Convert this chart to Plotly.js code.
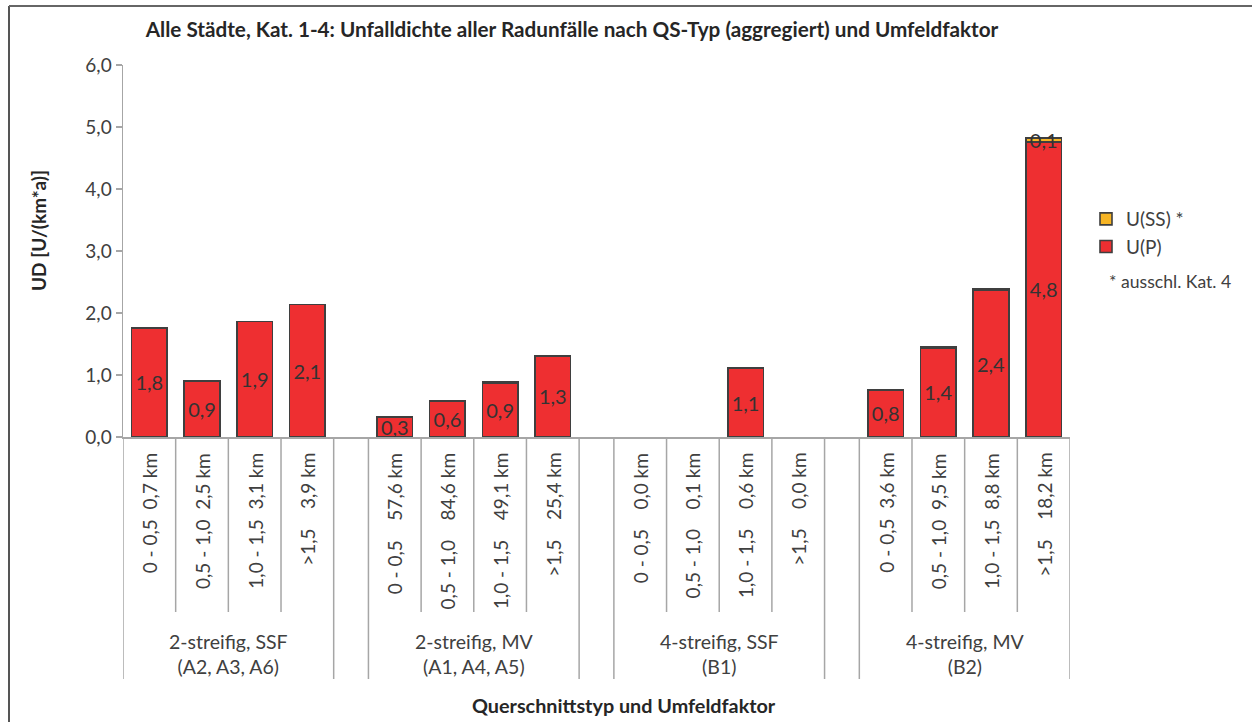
<!DOCTYPE html>
<html>
<head>
<meta charset="utf-8">
<script src="https://cdn.plot.ly/plotly-3.0.1.min.js"></script>
<style>html,body{margin:0;padding:0;background:#fff;}#chart{width:1252px;height:722px;}</style>
</head>
<body>
<div id="chart"></div>
<script>
// ---- data ----
const groupLabels = [
  '2-streifig, SSF<br>(A2, A3, A6)',
  '2-streifig, MV<br>(A1, A4, A5)',
  '4-streifig, SSF<br>(B1)',
  '4-streifig, MV<br>(B2)'
];
const NB = '\u00A0';
const subLabels = [
  '0 - 0,5  0,7 km', '0,5 - 1,0  2,5 km', '1,0 - 1,5  3,1 km', '>1,5    3,9 km',
  '0 - 0,5    57,6 km', '0,5 - 1,0    84,6 km', '1,0 - 1,5    49,1 km', '>1,5    25,4 km',
  '0 - 0,5    0,0 km', '0,5 - 1,0    0,1 km', '1,0 - 1,5    0,6 km', '>1,5    0,0 km',
  '0 - 0,5  3,6 km', '0,5 - 1,0  9,5 km', '1,0 - 1,5  8,8 km', '>1,5    18,2 km'
];
const uP  = [1.76, 0.90, 1.86, 2.14,  0.32, 0.58, 0.87, 1.31,  null, null, 1.11, null,  0.76, 1.44, 2.37, 4.76];
const uSS = [null, null, null, null,  null, null, 0.02, null,  null, null, null, null,  null, 0.01, 0.02, 0.06];
const seriesNames = ['U(P)', 'U(SS) *'];
const footnote = '* ausschl. Kat. 4';

// ---- layout helpers ----
const M = {l: 123, r: 182, t: 65, b: 285};
const W = 1252, H = 722;
const PW = W - M.l - M.r, PH = H - M.t - M.b;
const px2paperX = p => (p - M.l) / PW;
const px2paperY = p => (H - M.b - p) / PH;
const GROUP_STRIDE = 4.66;
const xPos = i => Math.floor(i / 4) * GROUP_STRIDE + (i % 4);
const xs = subLabels.map((_, i) => xPos(i));
const fmt = v => (v == null || v < 0.05) ? '' : v.toFixed(1).replace('.', ',');

const FONT = 'Lato, "Open Sans", sans-serif';
const TXT = '#404040';
const GRID = '#A6A6A6';

const common = {
  type: 'bar', x: xs, width: 0.675,
  textposition: 'inside', insidetextanchor: 'middle', textangle: 0,
  constraintext: 'none', cliponaxis: false,
  textfont: {family: FONT, size: 20, color: '#333333'},
  hoverinfo: 'skip'
};
const traces = [
  Object.assign({}, common, {
    name: seriesNames[0], y: uP, text: uP.map(fmt),
    marker: {color: '#EE2F31', line: {color: '#3F3F3F', width: 1.6}}
  }),
  Object.assign({}, common, {
    name: seriesNames[1], y: uSS, text: uSS.map(fmt),
    marker: {color: '#F7B525', line: {color: '#3F3F3F', width: 1.6}}
  })
];

const shapes = [];
const annotations = [];
// category labels and dividers
subLabels.forEach((lab, i) => {
  annotations.push({
    xref: 'x', yref: 'paper', x: xs[i], y: 0, yshift: -14,
    text: lab.replace(/ /g, NB), textangle: -90, showarrow: false,
    xanchor: 'center', yanchor: 'top',
    font: {family: FONT, size: 19, color: TXT}
  });
  if (i % 4 !== 0) {
    shapes.push({type: 'line', xref: 'x', yref: 'paper', ysizemode: 'pixel', yanchor: 0,
      x0: xs[i] - 0.5, x1: xs[i] - 0.5, y0: 0, y1: -175,
      line: {color: GRID, width: 1.5}});
  }
});
groupLabels.forEach((g, k) => {
  const first = xs[k * 4], last = xs[k * 4 + 3];
  [first - 0.5, last + 0.5].forEach(xv => {
    shapes.push({type: 'line', xref: 'x', yref: 'paper', ysizemode: 'pixel', yanchor: 0,
      x0: xv, x1: xv, y0: 0, y1: -242,
      line: {color: GRID, width: 1.5}});
  });
  annotations.push({
    xref: 'x', yref: 'paper', x: (first + last) / 2, y: 0, yshift: -217,
    text: g, showarrow: false, xanchor: 'center', yanchor: 'middle',
    font: {family: FONT, size: 19.5, color: TXT}
  });
});
// axis titles
annotations.push({
  xref: 'paper', yref: 'paper', x: px2paperX(624), y: px2paperY(705),
  text: '<b>Querschnittstyp und Umfeldfaktor</b>', showarrow: false,
  xanchor: 'center', yanchor: 'middle',
  font: {family: FONT, size: 19.8, color: '#262626'}
});
annotations.push({
  xref: 'paper', yref: 'paper', x: px2paperX(38), y: px2paperY(231),
  text: '<b>UD [U/(km*a)]</b>', showarrow: false, textangle: -90,
  xanchor: 'center', yanchor: 'middle',
  font: {family: FONT, size: 19, color: '#262626'}
});
annotations.push({
  xref: 'paper', yref: 'paper', x: px2paperX(1107), y: px2paperY(281),
  text: footnote, showarrow: false, xanchor: 'left', yanchor: 'middle',
  font: {family: FONT, size: 17.6, color: TXT}
});
// outer frame (left and top edges)
shapes.push({type: 'line', xref: 'paper', yref: 'paper',
  x0: px2paperX(9), x1: px2paperX(9), y0: px2paperY(6), y1: px2paperY(H + 5),
  line: {color: '#555555', width: 2}});
shapes.push({type: 'line', xref: 'paper', yref: 'paper',
  x0: px2paperX(9), x1: px2paperX(W + 5), y0: px2paperY(6), y1: px2paperY(6),
  line: {color: '#666666', width: 2}});

const layout = {
  width: W, height: H,
  margin: M,
  paper_bgcolor: '#ffffff', plot_bgcolor: '#ffffff',
  separators: ',.',
  barmode: 'stack',
  font: {family: FONT, color: TXT},
  title: {
    text: '<b>Alle Städte, Kat. 1-4: Unfalldichte aller Radunfälle nach QS-Typ (aggregiert) und Umfeldfaktor</b>',
    x: px2paperX(572), xref: 'paper', xanchor: 'center',
    y: 1 - 30 / H, yref: 'container', yanchor: 'middle',
    font: {family: FONT, size: 20.7, color: '#262626'}
  },
  xaxis: {
    range: [xs[0] - 0.5, xs[15] + 0.5], showticklabels: false, ticks: '',
    showgrid: false, zeroline: false, showline: true, linecolor: GRID, linewidth: 1.5,
    fixedrange: true
  },
  yaxis: {
    range: [0, 6], dtick: 1, tick0: 0, tickformat: '.1f',
    ticks: 'outside', ticklen: 6, tickcolor: GRID, tickwidth: 1.5,
    showline: true, linecolor: GRID, linewidth: 1.5,
    showgrid: false, zeroline: false,
    tickfont: {family: FONT, size: 19, color: TXT},
    fixedrange: true
  },
  showlegend: true,
  legend: {
    x: px2paperX(1086), xanchor: 'left', y: px2paperY(200), yanchor: 'top',
    traceorder: 'reversed', itemwidth: 30,
    font: {family: FONT, size: 19, color: TXT},
    bgcolor: 'rgba(0,0,0,0)'
  },
  shapes: shapes,
  annotations: annotations
};

Plotly.newPlot('chart', traces, layout, {displayModeBar: false, staticPlot: true});
</script>
</body>
</html>
